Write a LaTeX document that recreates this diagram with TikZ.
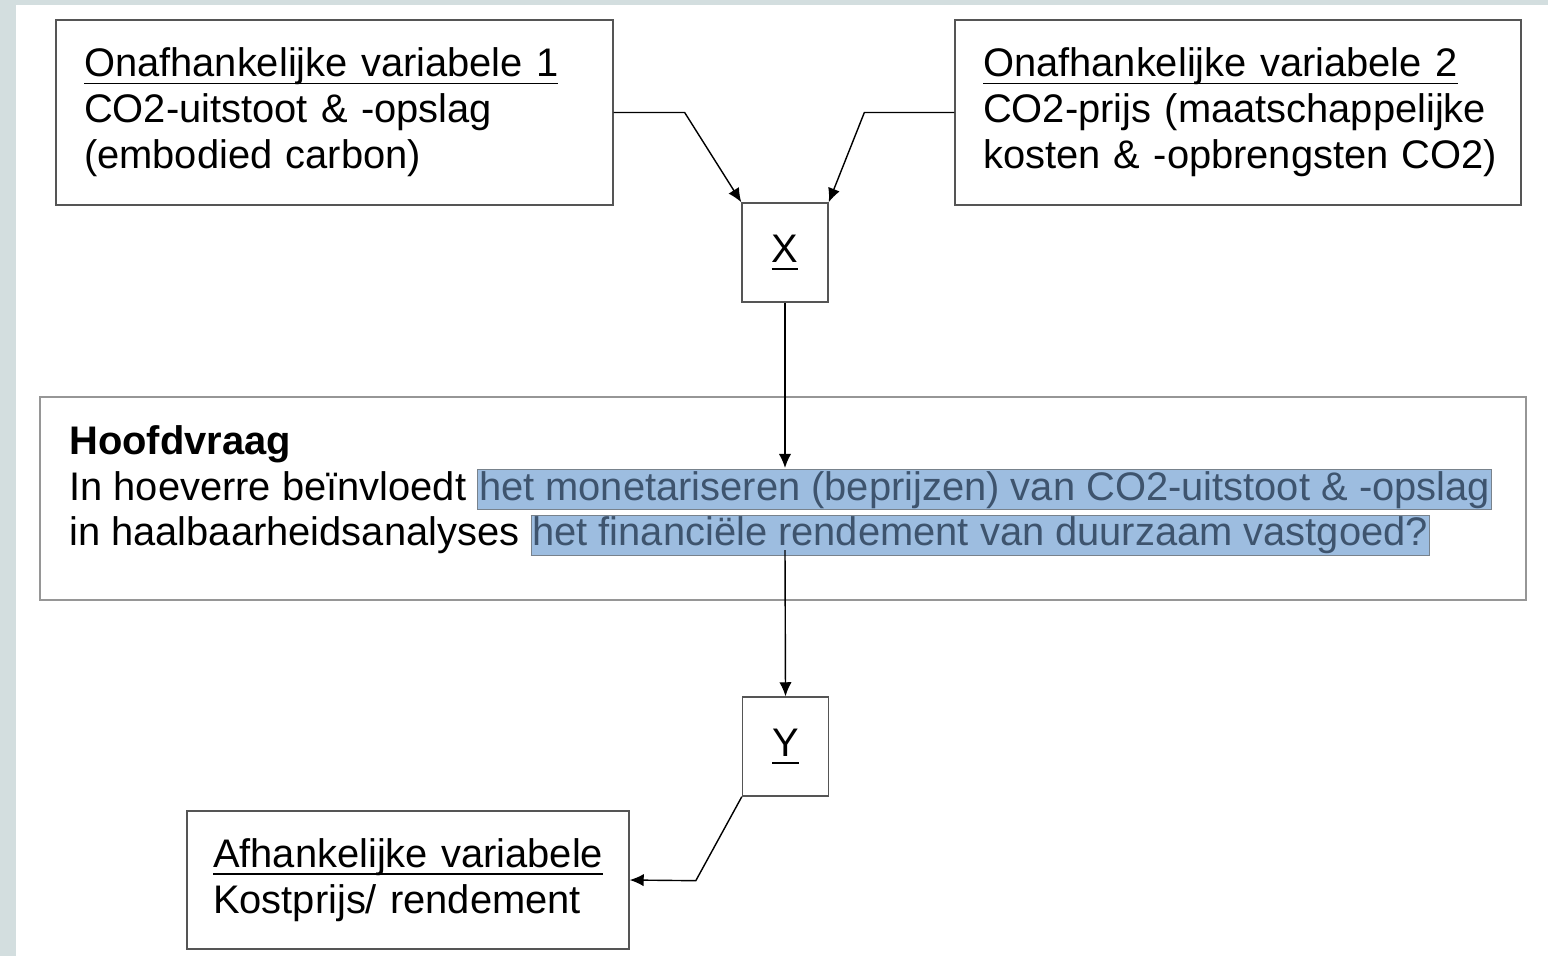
\documentclass[tikz,border=0pt]{standalone}
\usepackage{fontspec}
\setmainfont{Liberation Sans}
\usetikzlibrary{arrows.meta,positioning,calc}
\definecolor{randgrijs}{RGB}{85,85,85}
\definecolor{lichtrand}{RGB}{150,150,150}
\definecolor{achtergrond}{RGB}{211,222,223}
\definecolor{hlblauw}{RGB}{157,189,224}
\definecolor{hlrand}{RGB}{120,130,140}
\definecolor{hltekst}{RGB}{62,84,110}

\newlength\onderlen
\newcommand\onder[1]{\settowidth\onderlen{#1}\mbox{\rlap{\rule[-4.2pt]{\onderlen}{1pt}}#1}}
\newcommand\markeer[1]{{\setlength\fboxsep{0.5pt}\setlength\fboxrule{0.5pt}\fcolorbox{hlrand}{hlblauw}{\color{hltekst}#1}}}

\begin{document}
\begin{tikzpicture}[x=0.02cm, y=-0.02cm,
    varbox/.style={rectangle, draw=randgrijs, line width=0.8pt, align=left, inner xsep=0.56cm, inner ysep=0pt,
      font=\fontsize{22.7pt}{26.1pt}\selectfont},
    letterbox/.style={rectangle, draw=randgrijs, line width=0.8pt, minimum width=1.72cm, minimum height=1.98cm,
      inner sep=0pt, font=\fontsize{22.7pt}{26.1pt}\selectfont},
    pijl/.style={-{Latex[length=8pt,width=7pt]}, line width=0.8pt, black}
  ]
    % achtergrond
    \fill[achtergrond] (0,0) rectangle (1548,956);
    \fill[white] (16,5) rectangle (1548,956);

    % variabelen
    \node[varbox, text width=10.02cm, minimum height=3.7cm] (var1) at (334.5,112.5)
      {\onder{Onafhankelijke variabele 1}\\\mbox{CO2-uitstoot \& -opslag}\\\mbox{(embodied carbon)}};
    \node[varbox, text width=10.2cm, minimum height=3.7cm] (var2) at (1238,112.5)
      {\onder{Onafhankelijke variabele 2}\\\mbox{CO2-prijs (maatschappelijke}\\\mbox{kosten \& -opbrengsten CO2)}};
    \node[letterbox] (xbox) at (785,252.5) {\onder{X}};

    % hoofdvraag
    \node[rectangle, draw=lichtrand, line width=0.8pt, minimum width=29.72cm, minimum height=4.06cm] (vraagbox) at (783,498.5) {};
    \node[anchor=north west, inner sep=0pt, align=left, font=\fontsize{22.7pt}{26.1pt}\selectfont] (vraag) at (69,425)
      {\textbf{Hoofdvraag}\\
       In hoeverre beïnvloedt \markeer{het monetariseren (beprijzen) van CO2-uitstoot \& -opslag}\\
       in haalbaarheidsanalyses \markeer{het financiële rendement van duurzaam vastgoed?}};
    \coordinate (vraagin) at (785,468);
    \coordinate (vraaguit) at (785,550);

    \node[letterbox] (ybox) at (785.5,746.5) {\onder{Y}};
    \node[varbox, text width=7.8cm, inner xsep=0.52cm, minimum height=2.76cm] (afh) at (408,880)
      {\onder{Afhankelijke variabele}\\\mbox{Kostprijs/ rendement}};

    % pijlen
    \draw[pijl] (var1.east) -- ++(71,0) -- (xbox.north west);
    \draw[pijl] (var2.west) -- ++(-90,0) -- (xbox.north east);
    \draw[pijl] (xbox.south) -- (vraagin);
    \draw[pijl] (vraaguit) -- (ybox.north);
    \draw[pijl] (ybox.south west) -- ++(-46,84) -- (afh.east);
  \end{tikzpicture}
\end{document}
